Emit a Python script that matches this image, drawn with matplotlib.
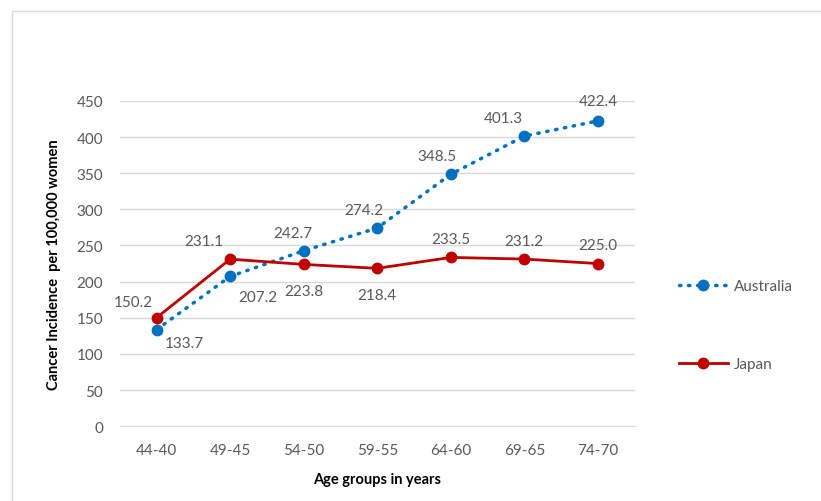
import matplotlib

matplotlib.use("Agg")
import matplotlib.pyplot as plt  # noqa: E402
from matplotlib.lines import Line2D  # noqa: E402

plt.rcParams["font.family"] = ["Lato", "DejaVu Sans"]

ages = ["44-40", "49-45", "54-50", "59-55", "64-60", "69-65", "74-70"]
australia = [133.7, 207.2, 242.7, 274.2, 348.5, 401.3, 422.4]
japan = [150.2, 231.1, 223.8, 218.4, 233.5, 231.2, 225.0]

# label offsets in points (dx, dy) per point
aus_off = [(20, -10), (20, -15), (-8, 13), (-10, 13), (-10, 13), (-15, 13), (0, 14)]
jap_off = [(-17, 11), (-19, 13), (0, -19), (0, -19), (0, 13), (0, 13), (0, 13)]

AUS = "#0070C0"
JAP = "#C00000"
GRAY = "#595959"
DOTS = (0, (0.4, 2.2))

fig = plt.figure(figsize=(8.21, 5.02), dpi=100)
ax = fig.add_axes([0.146, 0.149, 0.627, 0.648])
x = list(range(len(ages)))

ax.plot(x, australia, color=AUS, lw=2.5, ls=DOTS, dash_capstyle="round",
        marker="o", ms=7.5, zorder=3)
ax.plot(x, japan, color=JAP, lw=2, marker="o", ms=7.5, zorder=3)

for xi, v, (dx, dy) in zip(x, australia, aus_off):
    ax.annotate(f"{v:.1f}", (xi, v), xytext=(dx, dy), textcoords="offset points",
                ha="center", va="center", fontsize=11, color=GRAY)
for xi, v, (dx, dy) in zip(x, japan, jap_off):
    ax.annotate(f"{v:.1f}", (xi, v), xytext=(dx, dy), textcoords="offset points",
                ha="center", va="center", fontsize=11, color=GRAY)

ax.set_xlim(-0.5, len(ages) - 0.5)
ax.set_ylim(0, 450)
ax.set_yticks(range(0, 451, 50))
ax.set_xticks(x)
ax.set_xticklabels(ages)
ax.grid(axis="y", color="#D9D9D9", lw=1)
ax.set_axisbelow(True)
for s in ["top", "right", "left"]:
    ax.spines[s].set_visible(False)
ax.spines["bottom"].set_color("#D9D9D9")
ax.tick_params(length=0, labelsize=11, colors=GRAY)
ax.tick_params(axis="x", pad=12)
ax.tick_params(axis="y", pad=12)
ax.set_ylabel("Cancer Incidence  per 100,000 women", fontsize=10.5, fontweight="bold",
              color="black", labelpad=11)
ax.set_xlabel("Age groups in years", fontsize=10.5, fontweight="bold", color="black",
              labelpad=11)

# legend
handles = [
    Line2D([], [], color=AUS, lw=2.5, ls=DOTS, dash_capstyle="round",
           marker="o", ms=7.5),
    Line2D([], [], color=JAP, lw=2, marker="o", ms=7.5),
]
leg = fig.legend(handles, ["Australia", "Japan"], loc="center left",
                 bbox_to_anchor=(0.81, 0.35), frameon=False, fontsize=11,
                 labelspacing=4.2, handlelength=3.2, handletextpad=0.4)
for t in leg.get_texts():
    t.set_color(GRAY)

# outer chart border
fig.add_artist(Line2D([12 / 821, 1], [1 - 12 / 502] * 2, transform=fig.transFigure,
                      color="#D9D9D9", lw=1))
fig.add_artist(Line2D([12 / 821] * 2, [0, 1 - 12 / 502], transform=fig.transFigure,
                      color="#D9D9D9", lw=1))

fig.savefig("out.png", dpi=100)
